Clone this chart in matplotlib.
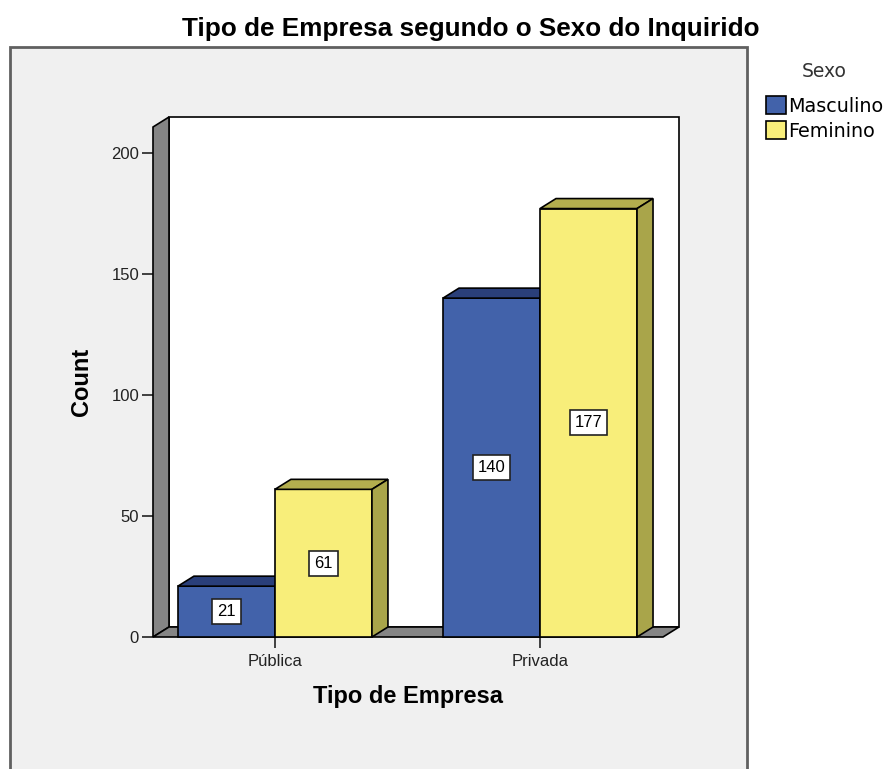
import matplotlib.pyplot as plt
from matplotlib.patches import Polygon, Rectangle, Patch

plt.rcParams['font.family'] = ['Liberation Sans', 'DejaVu Sans']

categories = ['Pública', 'Privada']
series = ['Masculino', 'Feminino']
counts = {'Masculino': [21, 140], 'Feminino': [61, 177]}
yticks = [0, 50, 100, 150, 200]

front = {'Masculino': '#4262AA', 'Feminino': '#F8EE7A'}
topc = {'Masculino': '#2A3F7A', 'Feminino': '#B3AE4E'}
sidec = {'Masculino': '#2A3F7A', 'Feminino': '#A9A54A'}
wall = '#858585'

W, H = 893, 769
fig = plt.figure(figsize=(W / 100, H / 100), dpi=100)

# outer SPSS-like frame
fig.patches.append(Rectangle((10 / W, -0.02), (747 - 10) / W, 1 - 47 / H + 0.02,
                             transform=fig.transFigure, fc='#f0f0f0', ec='#606060',
                             lw=2, zorder=-5))

ax = fig.add_axes([153 / W, (H - 637) / H, (663 - 153) / W, (637 - 127) / H])
ax.set_facecolor('none')
xlim = (-0.46, 1.464)
ylim = (0, 210.7)
ax.set_xlim(*xlim)
ax.set_ylim(*ylim)
for s in ax.spines.values():
    s.set_visible(False)

# depth offset (16 px right, 10 px up) in data units
dx = 16 * (xlim[1] - xlim[0]) / 510
dy = 10 * (ylim[1] - ylim[0]) / 510

kw = dict(ec='black', lw=1.2, clip_on=False)
# back wall, left wall, floor
ax.add_patch(Polygon([(xlim[0] + dx, dy), (xlim[1] + dx, dy), (xlim[1] + dx, ylim[1] + dy),
                      (xlim[0] + dx, ylim[1] + dy)], fc='white', zorder=1, **kw))
ax.add_patch(Polygon([(xlim[0], 0), (xlim[0] + dx, dy), (xlim[0] + dx, ylim[1] + dy),
                      (xlim[0], ylim[1])], fc=wall, zorder=2, **kw))
ax.add_patch(Polygon([(xlim[0], 0), (xlim[1], 0), (xlim[1] + dx, dy), (xlim[0] + dx, dy)],
                     fc=wall, zorder=2, **kw))

w = 0.366
z = 3
for i, cat in enumerate(categories):
    for j, s in enumerate(series):
        v = counts[s][i]
        x0 = i - w + j * w
        x1 = x0 + w
        ax.add_patch(Polygon([(x0, 0), (x1, 0), (x1, v), (x0, v)], fc=front[s], zorder=z, **kw))
        ax.add_patch(Polygon([(x0, v), (x1, v), (x1 + dx, v + dy), (x0 + dx, v + dy)],
                             fc=topc[s], zorder=z, **kw))
        ax.add_patch(Polygon([(x1, 0), (x1 + dx, dy), (x1 + dx, v + dy), (x1, v)],
                             fc=sidec[s], zorder=z, **kw))
        ax.text((x0 + x1) / 2, v / 2, str(v), ha='center', va='center', fontsize=12,
                zorder=z + 1,
                bbox=dict(boxstyle='square,pad=0.3', fc='white', ec='#222222', lw=1.2))
        z += 2

ax.set_yticks(yticks)
ax.set_xticks(range(len(categories)))
ax.set_xticklabels(categories)
ax.tick_params(axis='both', labelsize=12, length=8, width=1.2, color='#222222',
               labelcolor='#222222')
ax.tick_params(axis='y', pad=2)
ax.tick_params(axis='x', pad=4)
ax.set_ylabel('Count', fontsize=17, fontweight='bold', labelpad=13)
ax.set_xlabel('Tipo de Empresa', fontsize=17, fontweight='bold', labelpad=12)

fig.text(471 / W, 1 - 29 / H, 'Tipo de Empresa segundo o Sexo do Inquirido',
         ha='center', va='center', fontsize=18.8, fontweight='bold')

handles = [Patch(fc=front[s], ec='black', lw=1.2) for s in series]
leg = fig.legend(handles, series, title='Sexo', loc='upper left',
                 bbox_to_anchor=(766 / W, 1 - 62 / H), frameon=False,
                 prop={'family': 'DejaVu Sans', 'size': 13.8},
                 title_fontproperties={'family': 'DejaVu Sans', 'size': 13.5},
                 handlelength=1.02, handleheight=1.02,
                 handletextpad=0.12, labelspacing=0.3, borderaxespad=0, borderpad=0)
leg.get_title().set_color('#333333')
leg._legend_box.sep = 11

fig.savefig('out.png', dpi=100, facecolor='white')
